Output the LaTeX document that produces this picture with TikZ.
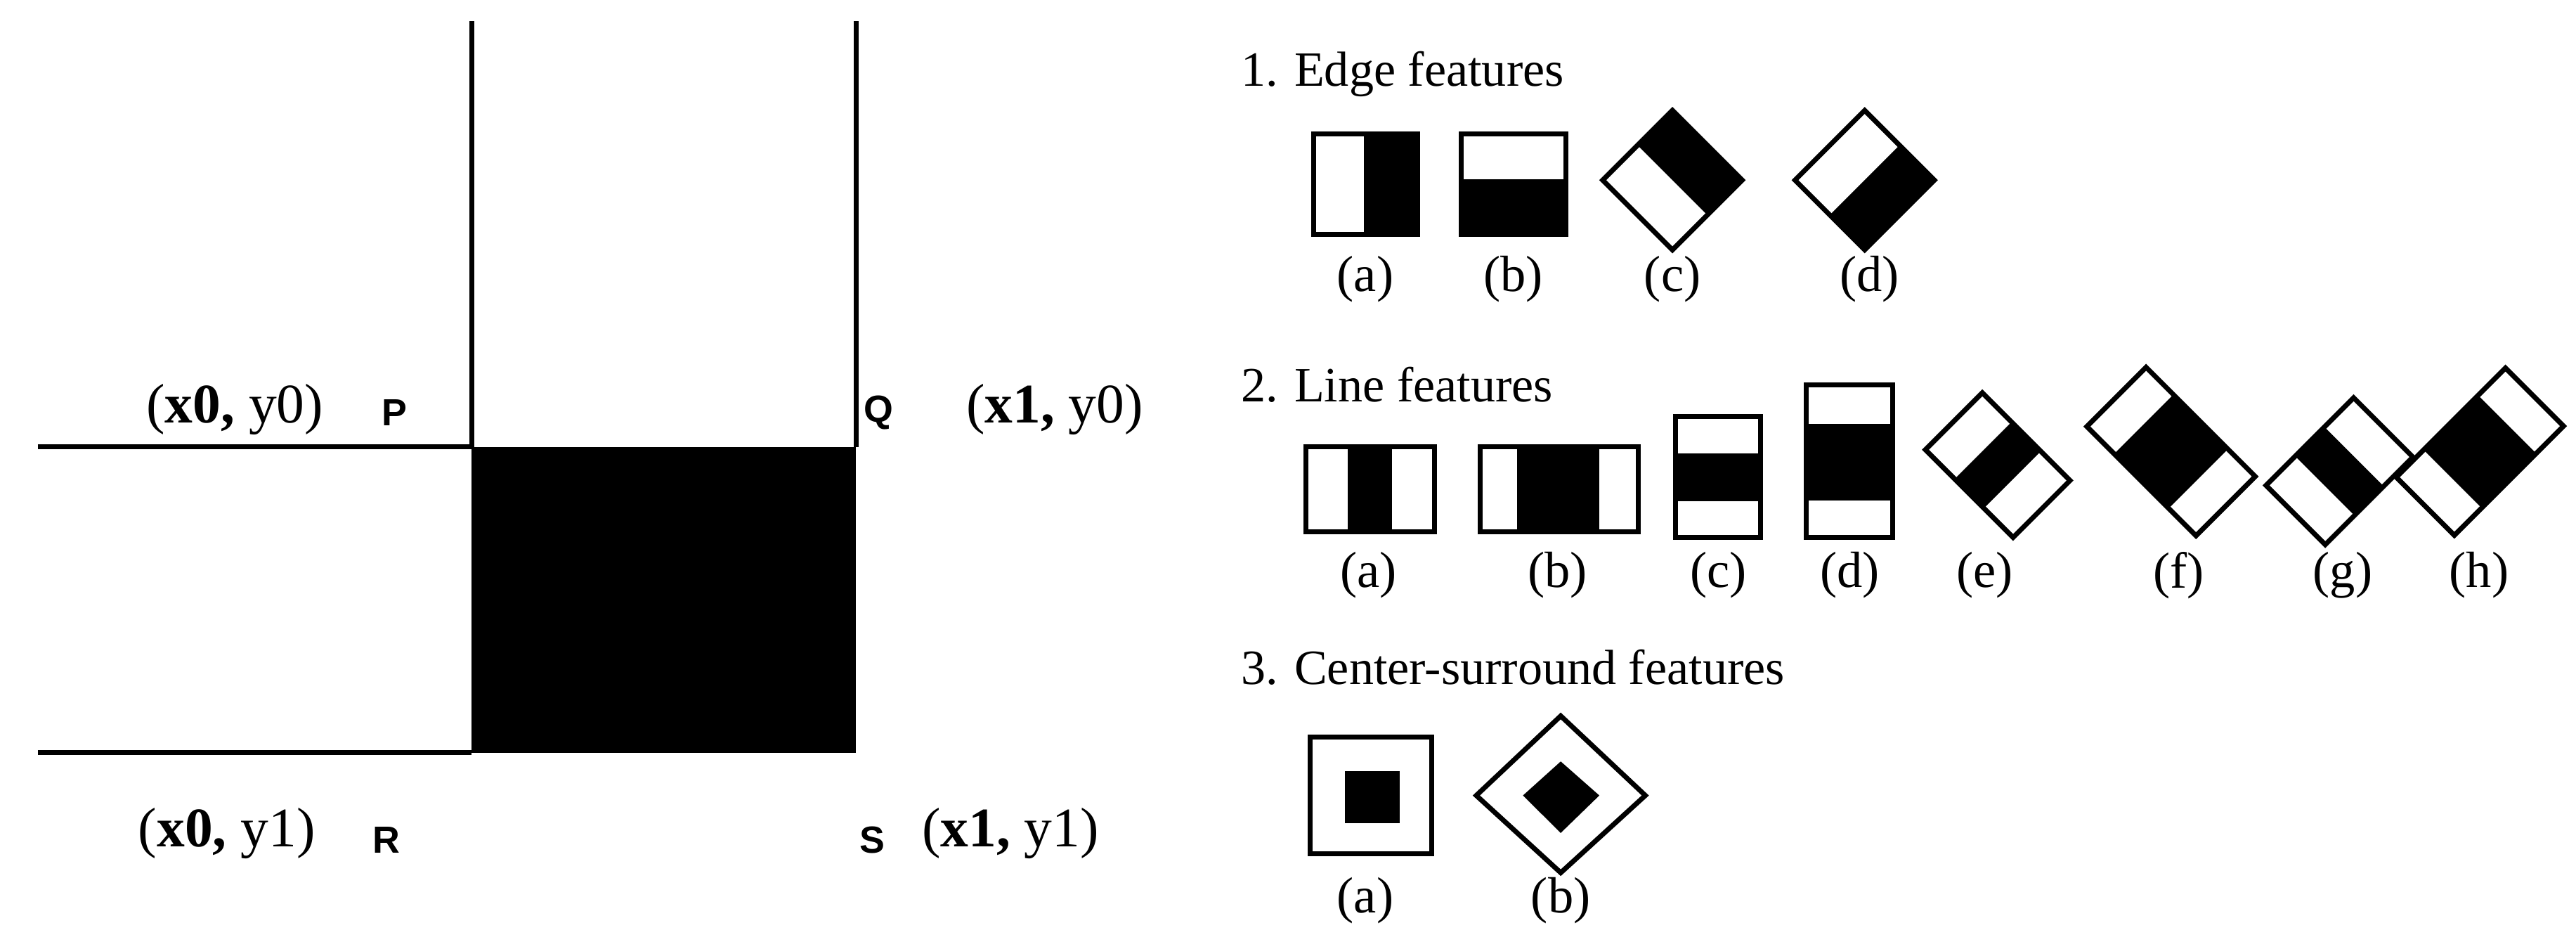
\documentclass[tikz,border=0pt]{standalone}
\usepackage{fontspec}
\setmainfont{Liberation Serif}
\newfontfamily\sansb{Liberation Sans}[BoldFont={Liberation Sans Bold}]
\begin{document}
\begin{tikzpicture}[x=0.5pt,y=-0.5pt,
  ol/.style={draw=black,line width=1.5pt,line join=miter},
  ln/.style={draw=black,line width=1.5pt},
  hd/.style={font=\fontsize{15}{18}\selectfont,anchor=west,inner sep=0},
  lb/.style={font=\fontsize{15.5}{18}\selectfont,inner sep=0},
  co/.style={font=\fontsize{17}{20}\selectfont,inner sep=0},
  pt/.style={font=\sansb\bfseries\fontsize{11.5}{14}\selectfont,inner sep=0}]
\useasboundingbox (0,0) rectangle (1568,577);
% left figure
\coordinate (T1) at (287,13); \coordinate (T2) at (521,13);
\coordinate (L1) at (23,272); \coordinate (L2) at (23,458);
\coordinate (P) at (287,272); \coordinate (Q) at (521,272);
\coordinate (R) at (287,458); \coordinate (S) at (521,458);
\fill[black] (P) rectangle (S);
\draw[ln] (T1) -- (P);
\draw[ln] (T2) -- (Q);
\draw[ln] (L1) -- (P);
\draw[ln] (L2) -- (R);
\node[co] (c00) at (143,249) {(\textbf{x0,} y0)};
\node[pt] (lp) at (240,251) {P};
\node[pt] (lq) at (535,251) {Q};
\node[co] (c10) at (642,249) {(\textbf{x1,} y0)};
\node[co] (c01) at (138,507) {(\textbf{x0,} y1)};
\node[pt] (lr) at (235,511) {R};
\node[pt] (ls) at (531,511) {S};
\node[co] (c11) at (615,507) {(\textbf{x1,} y1)};
% headings
\node[hd] (h1) at (755,45) {1. Edge features};
\node[hd] (h2) at (755,234) {2. Line features};
\node[hd] (h3) at (755,406) {3. Center-surround features};
% edge features
\fill (830,81.6) rectangle (863,142.5);
\draw[ol] (799.4,81.6) rectangle (863,142.5);
\fill (889.3,109) rectangle (953.3,142.5);
\draw[ol] (889.3,81.6) rectangle (953.3,142.5);
\begin{scope}[shift={(1018,109.6)},rotate=45]
 \fill (0,-30) rectangle (30,30); \draw[ol] (-30,-30) rectangle (30,30);
\end{scope}
\begin{scope}[shift={(1135,109.6)},rotate=-45]
 \fill (0,-30) rectangle (30,30); \draw[ol] (-30,-30) rectangle (30,30);
\end{scope}
\node[lb] (ea) at (831,170) {(a)};
\node[lb] (eb) at (921,170) {(b)};
\node[lb] (ec) at (1018,170) {(c)};
\node[lb] (ed) at (1138,170) {(d)};
% line features
\fill (820.5,272) rectangle (847.2,323.5);
\draw[ol] (794.7,272) rectangle (873,323.5);
\fill (923.4,272) rectangle (973.3,323.5);
\draw[ol] (900.8,272) rectangle (997,323.5);
\fill (1020,275.9) rectangle (1071.5,304.8);
\draw[ol] (1020,253.3) rectangle (1071.5,326.8);
\fill (1099.3,257.7) rectangle (1152,304.4);
\draw[ol] (1099.3,234.2) rectangle (1152,326.8);
\begin{scope}[shift={(1216,283)},rotate=-45]
 \fill (-12.6,-24.5) rectangle (12.6,24.5); \draw[ol] (-37.75,-24.5) rectangle (37.75,24.5);
\end{scope}
\begin{scope}[shift={(1321.5,274.7)},rotate=-45]
 \fill (-23.5,-25.5) rectangle (23.5,25.5); \draw[ol] (-47,-25.5) rectangle (47,25.5);
\end{scope}
\begin{scope}[shift={(1424,286.7)},rotate=45]
 \fill (-12.6,-25.5) rectangle (12.6,25.5); \draw[ol] (-37.7,-25.5) rectangle (37.7,25.5);
\end{scope}
\begin{scope}[shift={(1509.5,274.8)},rotate=45]
 \fill (-23.5,-25) rectangle (23.5,25); \draw[ol] (-47,-25) rectangle (47,25);
\end{scope}
\node[lb] (la) at (833,350) {(a)};
\node[lb] (lbb) at (948,350) {(b)};
\node[lb] (lc) at (1046,350) {(c)};
\node[lb] (ld) at (1126,350) {(d)};
\node[lb] (le) at (1208,350) {(e)};
\node[lb] (lf) at (1326,350) {(f)};
\node[lb] (lg) at (1426,350) {(g)};
\node[lb] (lh) at (1509,350) {(h)};
% center-surround
\fill (818.6,469) rectangle (852.1,501);
\draw[ol] (797.4,448.4) rectangle (871.3,519.6);
\draw[ol] (950,435.6) -- (1001.5,484) -- (950,531) -- (898.6,484) -- cycle;
\fill (950,463.3) -- (973.5,484) -- (950,506.8) -- (927,484) -- cycle;
\node[lb] (ca) at (831,548) {(a)};
\node[lb] (cb) at (950,548) {(b)};
\end{tikzpicture}
\end{document}
